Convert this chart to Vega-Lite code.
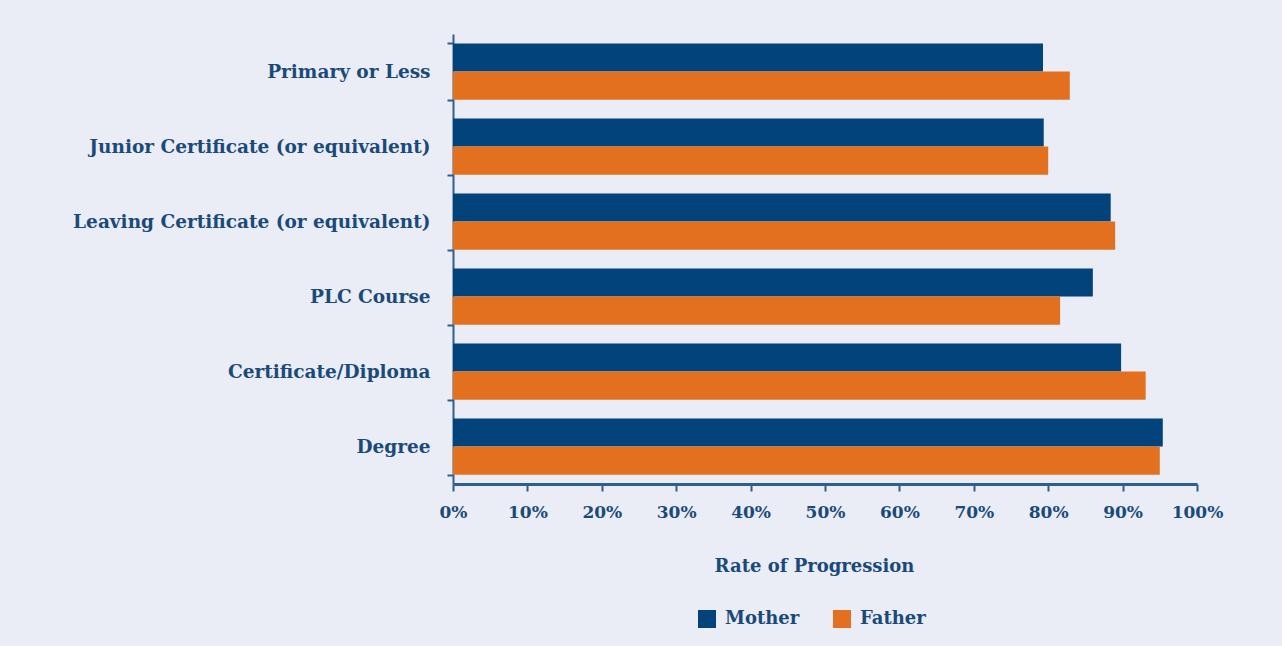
{
  "$schema": "https://vega.github.io/schema/vega-lite/v6.json",
  "width": 744,
  "height": 450,
  "autosize": {"type": "none"},
  "padding": {"left": 453, "top": 34, "right": 85, "bottom": 162},
  "background": "#EAEDF5",
  "data": {
    "values": [
      {"level": "Primary or Less", "parent": "Mother", "rate": 79.3},
      {"level": "Primary or Less", "parent": "Father", "rate": 82.9},
      {"level": "Junior Certificate (or equivalent)", "parent": "Mother", "rate": 79.4},
      {"level": "Junior Certificate (or equivalent)", "parent": "Father", "rate": 80.0},
      {"level": "Leaving Certificate (or equivalent)", "parent": "Mother", "rate": 88.4},
      {"level": "Leaving Certificate (or equivalent)", "parent": "Father", "rate": 89.0},
      {"level": "PLC Course", "parent": "Mother", "rate": 86.0},
      {"level": "PLC Course", "parent": "Father", "rate": 81.6},
      {"level": "Certificate/Diploma", "parent": "Mother", "rate": 89.8},
      {"level": "Certificate/Diploma", "parent": "Father", "rate": 93.1},
      {"level": "Degree", "parent": "Mother", "rate": 95.4},
      {"level": "Degree", "parent": "Father", "rate": 95.0}
    ]
  },
  "mark": {"type": "bar"},
  "encoding": {
    "y": {
      "field": "level",
      "type": "nominal",
      "sort": null,
      "scale": {"paddingInner": 0.25, "paddingOuter": 0.125},
      "axis": {
        "title": null,
        "tickBand": "extent",
        "domainColor": "#2F5F8F",
        "domainWidth": 2,
        "tickColor": "#2F5F8F",
        "tickWidth": 2,
        "tickSize": 6,
        "labelPadding": 17,
        "labelLimit": 0,
        "labelFont": "DejaVu Serif",
        "labelFontWeight": "bold",
        "labelFontSize": 18.5,
        "labelColor": "#1A4A7A"
      }
    },
    "yOffset": {"field": "parent", "type": "nominal", "sort": ["Mother", "Father"], "scale": {"paddingInner": 0, "paddingOuter": 0}},
    "x": {
      "field": "rate",
      "type": "quantitative",
      "scale": {"domain": [0, 100], "nice": false},
      "axis": {
        "title": "Rate of Progression",
        "values": [0, 10, 20, 30, 40, 50, 60, 70, 80, 90, 100],
        "labelExpr": "datum.value + '%'",
        "labelFlush": false,
        "labelAlign": "center",
        "grid": false,
        "domainColor": "#2F5F8F",
        "domainWidth": 3,
        "tickColor": "#2F5F8F",
        "tickWidth": 2,
        "tickSize": 7,
        "labelPadding": 13,
        "labelFont": "DejaVu Serif",
        "labelFontWeight": "bold",
        "labelFontSize": 17,
        "labelColor": "#1A4A7A",
        "titleFont": "DejaVu Serif",
        "titleFontWeight": "bold",
        "titleFontSize": 18,
        "titleColor": "#1A4A7A",
        "titlePadding": 37,
        "titleX": 361,
        "titleAlign": "center"
      }
    },
    "color": {
      "field": "parent",
      "type": "nominal",
      "sort": ["Mother", "Father"],
      "scale": {"domain": ["Mother", "Father"], "range": ["#01437A", "#E3701E"]},
      "legend": {
        "title": null,
        "orient": "none",
        "legendX": 245,
        "legendY": 576,
        "direction": "horizontal",
        "symbolType": "square",
        "symbolSize": 324,
        "symbolStrokeWidth": 0,
        "symbolOpacity": 1,
        "labelFont": "DejaVu Serif",
        "labelFontWeight": "bold",
        "labelFontSize": 18,
        "labelColor": "#1A4A7A",
        "labelOffset": 9,
        "columnPadding": 33
      }
    }
  },
  "config": {"view": {"stroke": null}}
}
